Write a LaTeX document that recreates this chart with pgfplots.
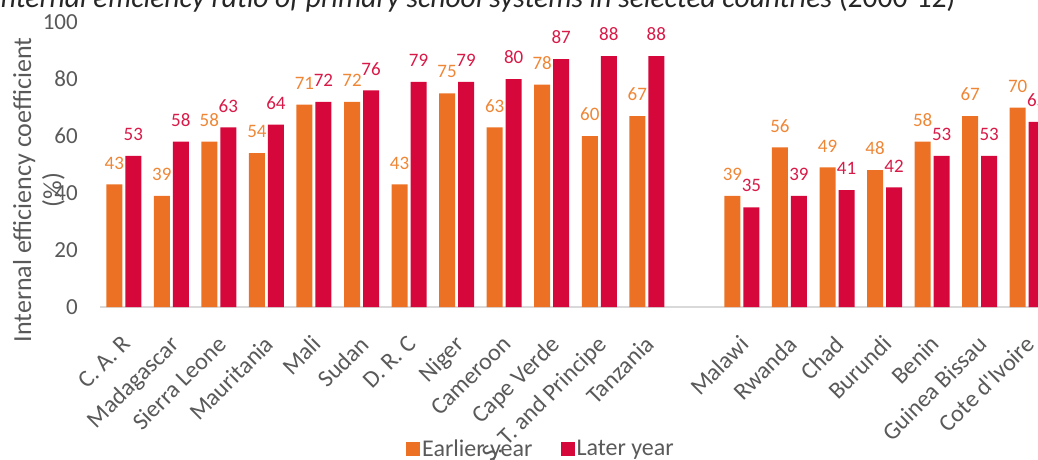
\documentclass[border=0pt]{standalone}
\usepackage{pgfplots}
\pgfplotsset{compat=1.18}
\usepackage{pgfplotstable}
\usepackage{fontspec}
\setmainfont{Carlito}

\definecolor{earlier}{HTML}{EC7124}
\definecolor{later}{HTML}{D6083B}
\definecolor{earlierlab}{HTML}{EF8636}
\definecolor{laterlab}{HTML}{D81A48}
\definecolor{txt}{HTML}{595959}
\definecolor{axisgrey}{HTML}{D9D9D9}

\pgfplotsset{sq legend/.style={legend image code/.code={\fill[##1,draw=none] (0pt,-7pt) rectangle (14pt,7pt);}}}

% x = slot; 12 is the empty gap between the two groups
\pgfplotstableread{
x early late
0 43 53
1 39 58
2 58 63
3 54 64
4 71 72
5 72 76
6 43 79
7 75 79
8 63 80
9 78 87
10 60 88
11 67 88
13 39 35
14 56 39
15 49 41
16 48 42
17 58 53
18 67 53
19 70 65
}\effdata

\begin{document}
\begin{tikzpicture}
\begin{axis}[
    scale only axis,
    width=951pt, height=285pt,
    xmin=-0.5, xmax=19.5,
    ymin=0, ymax=100,
    ybar=3pt, bar width=16pt,
    axis lines*=left,
    x axis line style={draw=axisgrey, line width=1.5pt},
    y axis line style={draw=none},
    major tick length=0pt,
    ytick={0,20,...,100},
    /pgf/number format/assume math mode=true,
    yticklabel style={font=\fontsize{23}{26}\selectfont, text=txt, inner sep=0pt, xshift=-22pt},
    xtick={0,1,...,11,13,14,...,19},
    xticklabels={C. A. R, Madagascar, Sierra Leone, Mauritania, Mali, Sudan, D. R. C, Niger, Cameroon, Cape Verde, S. T. and Principe, Tanzania, Malawi, Rwanda, Chad, Burundi, Benin, Guinea Bissau, Cote d\textquotesingle Ivoire},
    xticklabel style={font=\fontsize{24}{28}\selectfont, text=txt, inner sep=0pt, xshift=-3pt, yshift=-27pt, rotate=45, anchor=north east},
    nodes near coords,
    nodes near coords style={font=\fontsize{19}{22}\selectfont, anchor=south, inner sep=0pt, yshift=15pt},
    legend columns=2,
    legend style={at={(axis description cs:0.4637,-0.498)}, anchor=center, draw=none, fill=none,
        font=\fontsize{24}{28}\selectfont, text=txt, inner sep=0pt,
        /tikz/every even column/.append style={column sep=26pt}},
    clip=false,
]
\addplot[fill=earlier, draw=none, sq legend, every node near coord/.append style={text=earlierlab}] table[x=x, y=early] {\effdata};
\addplot[fill=later, draw=none, sq legend, every node near coord/.append style={text=laterlab}] table[x=x, y=late] {\effdata};
\legend{Earlier year, Later year}
\coordinate (O) at (rel axis cs:0,0);
\end{axis}

\node[rotate=90, align=center, font=\fontsize{26}{30}\selectfont, text=txt] at ([shift={(-61pt,117pt)}]O) {Internal efficiency coefficient\\(\%)};
\node[anchor=base west, font=\fontsize{29.5}{33}\selectfont\itshape, text=black!85] at ([shift={(-110pt,300pt)}]O) {Internal efficiency ratio of primary school systems in selected countries {\upshape(2000-12)}};

\pgfresetboundingbox
\path[use as bounding box] ([shift={(-100pt,-152pt)}]O) rectangle ([shift={(938pt,307pt)}]O);
\end{tikzpicture}
\end{document}
